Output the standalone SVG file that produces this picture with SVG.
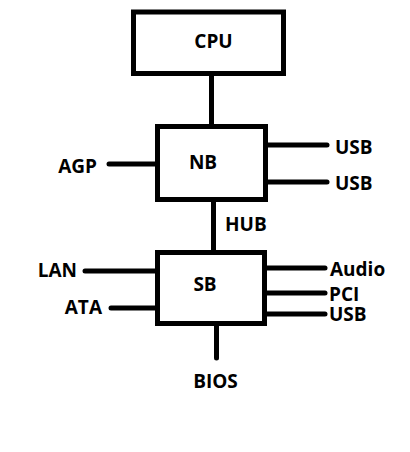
<svg xmlns="http://www.w3.org/2000/svg" width="410" height="452" viewBox="0 0 410 452">
<style>
.box{fill:#fff;stroke:#000;stroke-width:5}
.ln{stroke:#000;stroke-width:5;stroke-linecap:round;fill:none}
text{font-family:"Open Sans","Noto Sans",sans-serif;font-weight:bold;font-size:19px;fill:#000}
</style>
<rect width="410" height="452" fill="#fff"/>
<g id="connectors">
<line class="ln" x1="211.5" y1="76" x2="211.5" y2="124"/>
<line class="ln" x1="109" y1="164" x2="155" y2="164"/>
<line class="ln" x1="268" y1="145" x2="327" y2="145"/>
<line class="ln" x1="268" y1="182" x2="327" y2="182"/>
<line class="ln" x1="213.5" y1="202" x2="213.5" y2="250"/>
<line class="ln" x1="85" y1="271" x2="155" y2="271"/>
<line class="ln" x1="111" y1="308" x2="155" y2="308"/>
<line class="ln" x1="267" y1="268" x2="325" y2="268"/>
<line class="ln" x1="267" y1="293" x2="325" y2="293"/>
<line class="ln" x1="267" y1="314" x2="325" y2="314"/>
<line class="ln" x1="216.5" y1="326" x2="216.5" y2="358"/>
</g>
<g id="cpu">
<rect class="box" x="133.5" y="12" width="150" height="61.5"/>
<text x="213.5" y="48" text-anchor="middle">CPU</text>
</g>
<g id="nb">
<rect class="box" x="157.5" y="126.5" width="108" height="73"/>
<text x="203" y="169" text-anchor="middle">NB</text>
</g>
<g id="sb">
<rect class="box" x="157.5" y="252.5" width="107" height="71"/>
<text x="205" y="291" text-anchor="middle">SB</text>
</g>
<g id="labels">
<text x="97" y="173" text-anchor="end">AGP</text>
<text x="335" y="154">USB</text>
<text x="335" y="190">USB</text>
<text x="225" y="231">HUB</text>
<text x="77" y="277" text-anchor="end">LAN</text>
<text x="102" y="314" text-anchor="end">ATA</text>
<text x="330" y="276">Audio</text>
<text x="329" y="301">PCI</text>
<text x="329" y="321">USB</text>
<text x="215.5" y="388" text-anchor="middle">BIOS</text>
</g>
</svg>
